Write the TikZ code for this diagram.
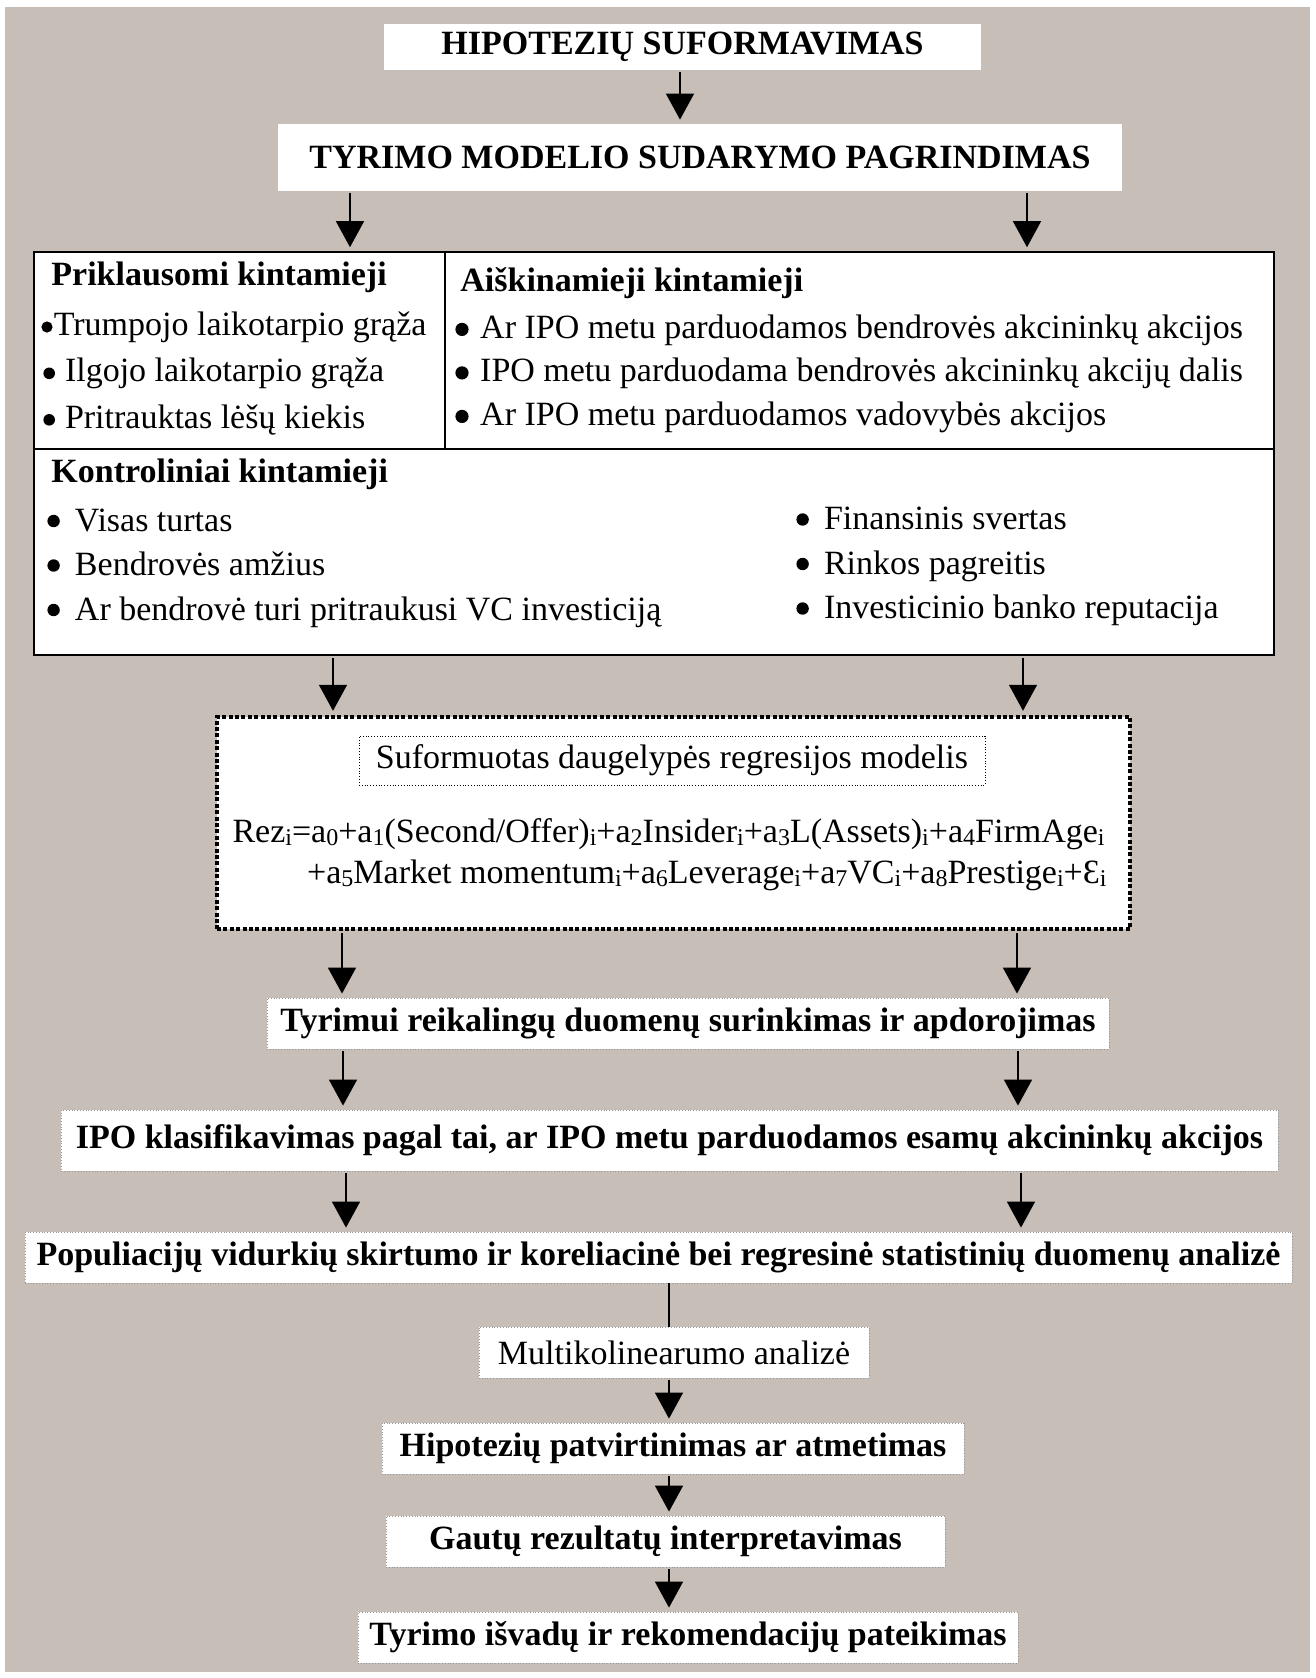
\documentclass[tikz,border=0pt]{standalone}
\usepackage{fontspec}
\setmainfont{Liberation Serif}
\usepackage{tikz}
\usetikzlibrary{arrows.meta, positioning}
\definecolor{beige1}{RGB}{199,190,184}
\definecolor{grey1}{RGB}{150,150,150}
\newcommand{\sbn}[1]{\raisebox{-1.5pt}{\fontsize{12}{12}\selectfont #1}}
\newcommand{\sbi}{\sbn{i}}
% bullet: radius, height of centre, gap after it
\newcommand{\bul}[3]{\tikz[baseline=0pt]\fill (#1,#2) circle (#1);\hspace{#3}}

\begin{document}
\begin{tikzpicture}[x=0.5pt, y=-0.5pt,
    every node/.style={inner sep=0pt, font=\fontsize{17}{20}\selectfont},
    myarrow/.style={-{Triangle[width=14pt,length=13pt]}, line width=0.7pt, black, shorten <=1pt, shorten >=2pt},
    myline/.style={line width=0.8pt, black},
    titlebox/.style={rectangle, fill=white, font=\fontsize{17}{20}\selectfont\bfseries},
    stepbox/.style={rectangle, fill=white, draw=grey1, densely dotted, line width=0.4pt, minimum height=25.5pt, font=\fontsize{17}{20}\selectfont\bfseries},
    varframe/.style={rectangle, fill=white, draw=black, line width=0.8pt},
    modelframe/.style={rectangle, fill=white, draw=black, line width=2.2pt, dash pattern=on 2pt off 1.2pt},
    item/.style={anchor=base west},
    head/.style={anchor=base west, font=\fontsize{17}{20}\selectfont\bfseries}
]
\useasboundingbox (0,0) rectangle (1316,1678);
\fill[beige1] (5,7) rectangle (1310,1672);

% top boxes
\node[titlebox, minimum width=298.5pt, minimum height=23pt] (hipo) at (682.5,47) {HIPOTEZIŲ SUFORMAVIMAS};
\node[titlebox, minimum width=422pt, minimum height=33.5pt] (pagr) at (700,157.5) {TYRIMO MODELIO SUDARYMO PAGRINDIMAS};

% variable frames
\node[varframe, minimum width=205.5pt, minimum height=98.5pt] (prikl) at (239.5,350.5) {};
\node[varframe, minimum width=414.5pt, minimum height=98.5pt] (aisk) at (859.5,350.5) {};
\node[varframe, minimum width=620pt, minimum height=103pt] (kontr) at (654,552) {};

\node[head] (priklhead) at (51,285) {Priklausomi kintamieji};
\node[item] (prikl1) at (41,335) {\bul{2.8pt}{4pt}{0.6pt}Trumpojo laikotarpio grąža};
\foreach \txt [count=\k from 2] in {Ilgojo laikotarpio grąža, Pritrauktas lėšų kiekis} {
    \node[item] (prikl\k) at (43,335+46.5*\k-46.5) {\bul{2.9pt}{4.1pt}{5pt}\txt};
}
\node[head] (aiskhead) at (460,291) {Aiškinamieji kintamieji};
\foreach \txt [count=\k] in {Ar IPO metu parduodamos bendrovės akcininkų akcijos, IPO metu parduodama bendrovės akcininkų akcijų dalis, Ar IPO metu parduodamos vadovybės akcijos} {
    \node[item] (aisk\k) at (455,294.5+43.5*\k) {\bul{3.3pt}{4.3pt}{5.8pt}\txt};
}
\node[head] (kontrhead) at (51,482) {Kontroliniai kintamieji};
\foreach \txt [count=\k] in {Visas turtas, Bendrovės amžius, Ar bendrovė turi pritraukusi VC investiciją} {
    \node[item] (kontrl\k) at (47,486.5+44.5*\k) {\bul{3.1pt}{5pt}{7.6pt}\txt};
}
\foreach \txt [count=\k] in {Finansinis svertas, Rinkos pagreitis, Investicinio banko reputacija} {
    \node[item] (kontrr\k) at (796,485+44.5*\k) {\bul{3.1pt}{5pt}{7.6pt}\txt};
}

% regression model
\node[modelframe, minimum width=456.5pt, minimum height=106pt] (model) at (673.5,823) {};
\node[rectangle, fill=white, draw=black, densely dotted, line width=0.4pt, minimum width=313pt, minimum height=24.5pt] (modtitle) at (672,760.5) {Suformuotas daugelypės regresijos modelis};
\node[anchor=base east] (formula1) at (1105,842)
    {Rez\sbi=a\sbn{0}+a\sbn{1}(Second/Offer)\sbi+a\sbn{2}Insider\sbi+a\sbn{3}L(Assets)\sbi+a\sbn{4}FirmAge\sbi};
\node[anchor=base east] (formula2) at (1107,883)
    {+a\sbn{5}Market momentum\sbi+a\sbn{6}Leverage\sbi+a\sbn{7}VC\sbi+a\sbn{8}Prestige\sbi+Ɛ\sbi};

% research steps
\node[stepbox, minimum width=421pt] (duom) at (688,1023.5) {Tyrimui reikalingų duomenų surinkimas ir apdorojimas};
\node[stepbox, minimum width=608.5pt, minimum height=30.5pt] (klas) at (669.5,1140.5) {IPO klasifikavimas pagal tai, ar IPO metu parduodamos esamų akcininkų akcijos};
\node[stepbox, minimum width=633.5pt] (anal) at (658.5,1257.5) {Populiacijų vidurkių skirtumo ir koreliacinė bei regresinė statistinių duomenų analizė};
\node[stepbox, minimum width=195pt, font=\fontsize{17}{20}\selectfont] (multi) at (674,1352.5) {Multikolinearumo analizė};
\node[stepbox, minimum width=291pt] (hip2) at (673,1448.5) {Hipotezių patvirtinimas ar atmetimas};
\node[stepbox, minimum width=279.5pt] (interp) at (665.5,1541.5) {Gautų rezultatų interpretavimas};
\node[stepbox, minimum width=330pt] (isvad) at (688,1637.5) {Tyrimo išvadų ir rekomendacijų pateikimas};

% arrows
\coordinate (c0) at (680,0);
\draw[myarrow] (hipo.south -| c0) -- (pagr.north -| c0);
\foreach \src/\dstl/\dstr/\lx/\rx in {pagr/prikl/aisk/350/1027, kontr/model/model/333/1023, model/duom/duom/342/1017, duom/klas/klas/343/1018, klas/anal/anal/346/1021} {
    \coordinate (cl) at (\lx,0);
    \coordinate (cr) at (\rx,0);
    \draw[myarrow] (\src.south -| cl) -- (\dstl.north -| cl);
    \draw[myarrow] (\src.south -| cr) -- (\dstr.north -| cr);
}
\coordinate (spine) at (669,0);
\draw[myline] (anal.south -| spine) -- (multi.north -| spine);
\foreach \src/\dst in {multi/hip2, hip2/interp, interp/isvad} {
    \draw[myarrow] (\src.south -| spine) -- (\dst.north -| spine);
}

\end{tikzpicture}
\end{document}
